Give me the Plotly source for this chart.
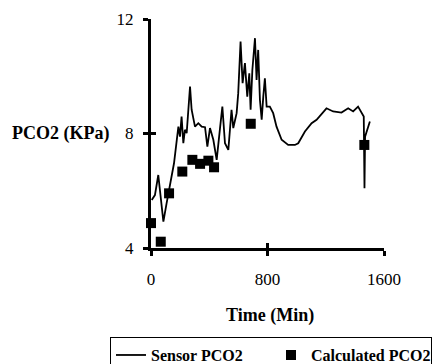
import plotly.graph_objects as go

sensor_time = [5, 27, 50, 62, 85, 107, 158, 188, 199, 210, 222, 233, 245, 268, 279, 302, 325, 348,
               371, 387, 405, 428, 451, 474, 490, 508, 531, 553, 565, 588, 599, 615, 629, 645,
               661, 675, 684, 696, 714, 725, 736, 748, 760, 771, 782, 794, 816, 839, 862, 897,
               942, 988, 1011, 1057, 1103, 1137, 1182, 1205, 1251, 1308, 1354, 1388, 1422,
               1446, 1461, 1466, 1470, 1503]
sensor_pco2 = [5.68, 5.85, 6.55, 5.91, 4.92, 5.56, 6.96, 8.24, 7.89, 8.59, 7.66, 8.13, 8.01, 9.64,
               8.83, 8.24, 8.36, 8.24, 8.22, 7.54, 8.19, 7.78, 7.08, 8.19, 8.94, 7.66, 7.43, 8.83,
               8.19, 8.71, 9.41, 11.21, 9.76, 10.46, 9.29, 10.1, 8.83, 10.22, 11.33, 9.87, 10.92,
               9.17, 8.48, 9.29, 9.93, 8.94, 8.94, 8.71, 8.24, 7.78, 7.6, 7.6, 7.66, 8.07, 8.36,
               8.48, 8.77, 8.88, 8.77, 8.73, 8.88, 8.77, 8.94, 8.71, 8.59, 6.09, 7.89, 8.42]

calc_time = [0, 67, 124, 215, 284, 337, 394, 433, 685, 1465]
calc_pco2 = [4.87, 4.22, 5.91, 6.67, 7.08, 6.94, 7.05, 6.82, 8.34, 7.6]

x_ticks = [0, 800, 1600]
y_ticks = [4, 8, 12]

serif = "Times New Roman"

fig = go.Figure()
fig.add_trace(go.Scatter(x=sensor_time, y=sensor_pco2, mode="lines",
                         name="<b>Sensor PCO2</b>",
                         line=dict(color="black", width=1.8), cliponaxis=False))
fig.add_trace(go.Scatter(x=calc_time, y=calc_pco2, mode="markers",
                         name="<b>Calculated PCO2</b>",
                         marker=dict(symbol="square", size=10, color="black"),
                         cliponaxis=False))
# invisible trace on overlay axis for inside ticks
fig.add_trace(go.Scatter(x=[0, 1600], y=[4, 12], mode="markers", xaxis="x2", yaxis="y2",
                         marker=dict(opacity=0), showlegend=False, hoverinfo="skip"))

fig.update_layout(
    width=436, height=356,
    margin=dict(l=143, r=60, t=11, b=116, autoexpand=False),
    paper_bgcolor="white", plot_bgcolor="white",
    font=dict(family=serif, color="black", size=16),
    showlegend=True,
    xaxis=dict(range=[0, 1600], tickvals=x_ticks, showgrid=False, zeroline=False,
               showline=True, linecolor="black", linewidth=2.5, automargin=False,
               ticks="outside", ticklen=5, tickwidth=2.5, tickcolor="black",
               ticklabelstandoff=9, tickfont=dict(family=serif, size=17)),
    yaxis=dict(range=[4, 12], tickvals=y_ticks, showgrid=False, zeroline=False,
               showline=True, linecolor="black", linewidth=3, automargin=False,
               ticks="outside", ticklen=5, tickwidth=2.5, tickcolor="black",
               ticklabelstandoff=6, tickfont=dict(family=serif, size=17)),
    xaxis2=dict(range=[0, 1600], tickvals=x_ticks, overlaying="x", anchor="y2", side="bottom",
                showgrid=False, zeroline=False, showline=False, showticklabels=False,
                ticks="inside", ticklen=5, tickwidth=2.5, tickcolor="black"),
    yaxis2=dict(range=[4, 12], tickvals=y_ticks, overlaying="y", anchor="x2", side="left",
                showgrid=False, zeroline=False, showline=False, showticklabels=False,
                ticks="inside", ticklen=5, tickwidth=2.5, tickcolor="black"),
    legend=dict(orientation="h", x=-0.176, xanchor="left", y=-0.389, yanchor="top",
                bordercolor="black", borderwidth=1, bgcolor="white",
                font=dict(family=serif, size=16, color="black"),
                itemwidth=30, entrywidth=115, entrywidthmode="pixels", tracegroupgap=0),
    annotations=[
        dict(text="<b>PCO2 (KPa)</b>", xref="paper", yref="paper",
             x=(111 - 151) / 233, y=0.5, xanchor="right", yanchor="middle",
             showarrow=False, font=dict(family=serif, size=18)),
        dict(text="<b>Time (Min)</b>", xref="paper", yref="paper",
             x=(270 - 151) / 233, y=(248 - 315) / 229, xanchor="center", yanchor="middle",
             showarrow=False, font=dict(family=serif, size=18)),
    ],
)

fig.write_html("out.html")
